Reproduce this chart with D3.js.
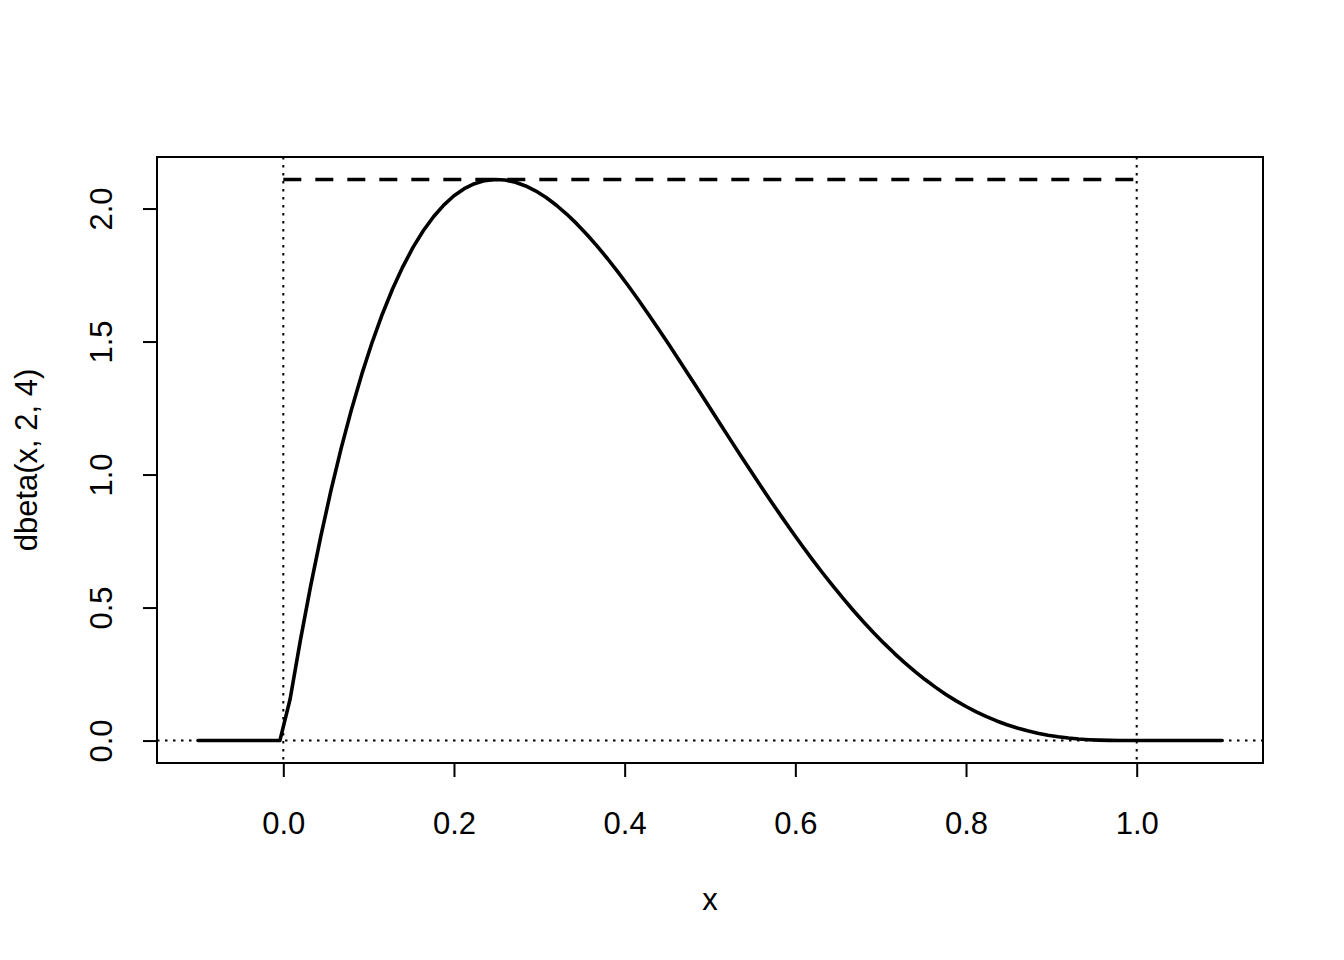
<!DOCTYPE html>
<html>
<head>
<meta charset="utf-8">
<script src="https://cdn.jsdelivr.net/npm/d3@7"></script>
<style>
  html, body { margin: 0; padding: 0; background: #fff; }
  svg { display: block; }
  text { font-family: "Liberation Sans", Arial, sans-serif; fill: #000; }
</style>
</head>
<body>
<svg id="chart" width="1344" height="960"></svg>
<script>
// x grid of the curve
const xValues = [
  -0.1, -0.088, -0.076, -0.064, -0.052, -0.04, -0.028, -0.016, -0.004, 0.008,
  0.02, 0.032, 0.044, 0.056, 0.068, 0.08, 0.092, 0.104, 0.116, 0.128,
  0.14, 0.152, 0.164, 0.176, 0.188, 0.2, 0.212, 0.224, 0.236, 0.248,
  0.26, 0.272, 0.284, 0.296, 0.308, 0.32, 0.332, 0.344, 0.356, 0.368,
  0.38, 0.392, 0.404, 0.416, 0.428, 0.44, 0.452, 0.464, 0.476, 0.488,
  0.5, 0.512, 0.524, 0.536, 0.548, 0.56, 0.572, 0.584, 0.596, 0.608,
  0.62, 0.632, 0.644, 0.656, 0.668, 0.68, 0.692, 0.704, 0.716, 0.728,
  0.74, 0.752, 0.764, 0.776, 0.788, 0.8, 0.812, 0.824, 0.836, 0.848,
  0.86, 0.872, 0.884, 0.896, 0.908, 0.92, 0.932, 0.944, 0.956, 0.968,
  0.98, 0.992, 1.004, 1.016, 1.028, 1.04, 1.052, 1.064, 1.076, 1.088, 1.1
];
// density values dbeta(x, 2, 4)
const yValues = [
  0, 0, 0, 0, 0, 0, 0, 0, 0, 0.15619,
  0.37648, 0.58051, 0.76888, 0.94218, 1.10100, 1.24590, 1.37745, 1.49619, 1.60267, 1.69742,
  1.78096, 1.85379, 1.91643, 1.96936, 2.01306, 2.04800, 2.07465, 2.09345, 2.10486, 2.10928,
  2.10716, 2.09890, 2.08491, 2.06557, 2.04126, 2.01236, 1.97924, 1.94222, 1.90168, 1.85793,
  1.81129, 1.76209, 1.71061, 1.65715, 1.60200, 1.54542, 1.48769, 1.42904, 1.36972, 1.30997,
  1.25000, 1.19003, 1.13027, 1.07090, 1.01210, 0.95406, 0.89693, 0.84086, 0.78599, 0.73247,
  0.68041, 0.62993, 0.58112, 0.53409, 0.48890, 0.44564, 0.40438, 0.36516, 0.32802, 0.29300,
  0.26012, 0.22940, 0.20084, 0.17443, 0.15016, 0.12800, 0.10791, 0.08985, 0.07375, 0.05956,
  0.04720, 0.03657, 0.02760, 0.02016, 0.01414, 0.00942, 0.00586, 0.00332, 0.00163, 0.00063,
  0.00016, 0.00001, 0, 0, 0, 0, 0, 0, 0, 0, 0
];
const xTicks = [0.0, 0.2, 0.4, 0.6, 0.8, 1.0];
const yTicks = [0.0, 0.5, 1.0, 1.5, 2.0];
const peakValue = 2.109375;     // dashed line level
const vLines = [0, 1];          // dotted vertical references
const hLines = [0];             // dotted horizontal reference
const xLabel = "x";
const yLabel = "dbeta(x, 2, 4)";

const svg = d3.select("#chart");
const pLeft = 157, pRight = 1263, pTop = 157, pBottom = 763;

const x = d3.scaleLinear().domain([-0.148, 1.148]).range([pLeft, pRight]);
const y = d3.scaleLinear().domain([-0.084375, 2.19375]).range([pBottom, pTop]);

// dotted reference lines
svg.selectAll(".vref").data(vLines).enter().append("line")
  .attr("x1", d => x(d)).attr("x2", d => x(d))
  .attr("y1", pTop).attr("y2", pBottom)
  .attr("stroke", "#000").attr("stroke-width", 2).attr("stroke-dasharray", "2.5,5.5");
svg.selectAll(".href").data(hLines).enter().append("line")
  .attr("x1", pLeft).attr("x2", pRight)
  .attr("y1", d => y(d)).attr("y2", d => y(d))
  .attr("stroke", "#000").attr("stroke-width", 2).attr("stroke-dasharray", "2.5,5.5");

// dashed peak line
svg.append("line")
  .attr("x1", x(0)).attr("x2", x(1))
  .attr("y1", y(peakValue)).attr("y2", y(peakValue))
  .attr("stroke", "#000").attr("stroke-width", 3.4).attr("stroke-dasharray", "18,14");

// curve
const pts = xValues.map((v, i) => [v, yValues[i]]);
svg.append("path")
  .datum(pts)
  .attr("d", d3.line().x(d => x(d[0])).y(d => y(d[1])))
  .attr("fill", "none").attr("stroke", "#000").attr("stroke-width", 3.6)
  .attr("stroke-linejoin", "round").attr("stroke-linecap", "round");

// box
svg.append("rect")
  .attr("x", pLeft).attr("y", pTop).attr("width", pRight - pLeft).attr("height", pBottom - pTop)
  .attr("fill", "none").attr("stroke", "#000").attr("stroke-width", 2);

// x axis
const xAxis = d3.axisBottom(x).tickValues(xTicks).tickFormat(d3.format(".1f")).tickSize(14).tickPadding(0);
const gx = svg.append("g").attr("transform", `translate(0,${pBottom})`).call(xAxis);
gx.select(".domain").attr("stroke", "none");
gx.selectAll(".tick line").attr("stroke-width", 2);
gx.selectAll(".tick text").attr("y", 71).attr("dy", null)
  .style("font-size", "31px").style("font-family", "'Liberation Sans', Arial, sans-serif");

// y axis
const yAxis = d3.axisLeft(y).tickValues(yTicks).tickFormat(d3.format(".1f")).tickSize(14).tickPadding(0);
const gy = svg.append("g").attr("transform", `translate(${pLeft},0)`).call(yAxis);
gy.select(".domain").attr("stroke", "none");
gy.selectAll(".tick line").attr("stroke-width", 2);
gy.selectAll(".tick text")
  .attr("x", null).attr("dy", null)
  .attr("text-anchor", "middle")
  .attr("transform", "translate(-45,0) rotate(-90)")
  .style("font-size", "31px").style("font-family", "'Liberation Sans', Arial, sans-serif");

// axis titles
svg.append("text").attr("x", (pLeft + pRight) / 2).attr("y", 910)
  .attr("text-anchor", "middle").style("font-size", "31px").text(xLabel);
svg.append("text")
  .attr("transform", `translate(37,${(pTop + pBottom) / 2}) rotate(-90)`)
  .attr("text-anchor", "middle").style("font-size", "31px").text(yLabel);
</script>
</body>
</html>
